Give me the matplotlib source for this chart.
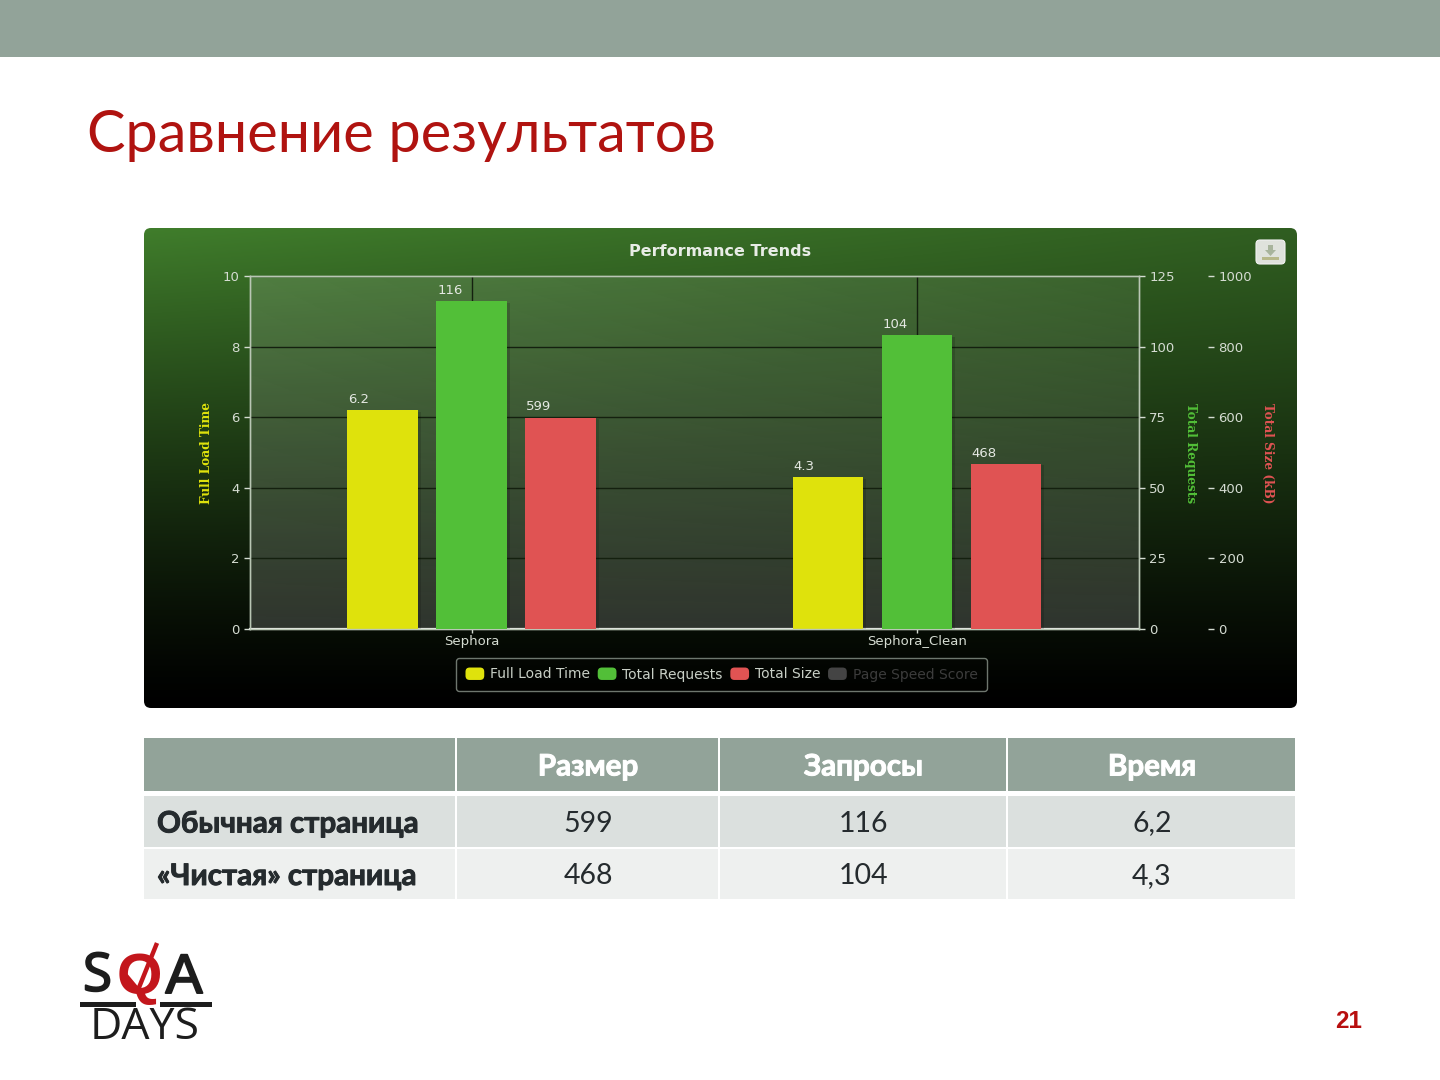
import numpy as np
import matplotlib
matplotlib.use('Agg')
import matplotlib.pyplot as plt
import matplotlib.patheffects as pe
from matplotlib.legend_handler import HandlerPatch
from matplotlib.patches import FancyBboxPatch, Rectangle, Patch, Polygon

W, H = 1440, 1080

# chart data
hosts = ['Sephora', 'Sephora_Clean']
load_time = [6.2, 4.3]
requests = [116, 104]
total_size = [599, 468]

load_ticks = [0, 2, 4, 6, 8, 10]
request_ticks = [0, 25, 50, 75, 100, 125]
size_ticks = [0, 200, 400, 600, 800, 1000]

legend_names = ['Full Load Time', 'Total Requests', 'Total Size', 'Page Speed Score']
legend_colors = ['#dfe20c', '#52bf38', '#e05353', '#444444']
legend_text = ['#c8cfc6', '#c8cfc6', '#c8cfc6', '#3c3c3c']

# table under the chart
table_head = ['', 'Размер', 'Запросы', 'Время']
table_rows = [['Обычная страница', '599', '116', '6,2'],
              ['«Чистая» страница', '468', '104', '4,3']]

SLIDE_FONT = ['Lato', 'Open Sans', 'DejaVu Sans']
TICK = '#d5dcd2'
DARK = '#1d1d1d'
RED = '#c3161c'


class RoundSwatch(HandlerPatch):
    # legend keys have rounded corners in the original
    def create_artists(self, legend, orig, xd, yd, width, height, fontsize, trans):
        p = FancyBboxPatch((-xd + 2, -yd + 2), width - 4, height - 4,
                           boxstyle='round,pad=2,rounding_size=3', fc=orig.get_facecolor(),
                           ec='none', transform=trans)
        return [p]


fig = plt.figure(figsize=(W / 100, H / 100), dpi=100, facecolor='white')

# whole slide in pixel coordinates
bg = fig.add_axes([0, 0, 1, 1], zorder=0)
bg.set_xlim(0, W)
bg.set_ylim(H, 0)
bg.axis('off')

bg.add_patch(Rectangle((0, 0), W, 57, color='#92a399', lw=0))
bg.text(87, 136, 'Сравнение результатов', color='#b01310', fontsize=41.5,
        family=SLIDE_FONT, va='center', ha='left')

# chart panel gradient
ny, nx = 240, 320
yy, xx = np.mgrid[0:1:ny * 1j, 0:1:nx * 1j]
top = np.array([0.25, 0.49, 0.17])
fade = np.clip(1 - yy, 0, 1) ** 1.25
side = 1 - 0.25 * xx * (1 - yy)
panel = top[None, None, :] * (fade * side)[:, :, None]
im = bg.imshow(panel, extent=(144, 1297, 708, 228), aspect='auto', zorder=1,
               interpolation='bilinear')
box = FancyBboxPatch((148, 232), 1145, 472, boxstyle='round,pad=4,rounding_size=7',
                     fc='none', ec='none', transform=bg.transData)
bg.add_patch(box)
im.set_clip_path(box)

# lighter plot area
light = np.ones((ny, nx, 4))
light[:, :, 3] = 0.13 - 0.06 * xx * (1 - yy) + 0.04 * yy
bg.imshow(light, extent=(250, 1139, 629, 276), aspect='auto', zorder=2)
bg.set_xlim(0, W)
bg.set_ylim(H, 0)

bg.text(720, 252, 'Performance Trends', color='#e8ece6', fontsize=11.5,
        fontweight='bold', ha='center', va='center', zorder=3)

# download button
bg.add_patch(FancyBboxPatch((1258, 242), 25, 20, boxstyle='round,pad=2,rounding_size=4',
                            fc='#dfe2dc', ec='#f2f2f2', lw=0.8, zorder=3))
bg.add_patch(Polygon([(1268, 245), (1273, 245), (1273, 250), (1276, 250), (1270.5, 256),
                      (1265, 250), (1268, 250)], color='#a8b49c', lw=0, zorder=4))
bg.add_patch(Rectangle((1262, 257), 17, 3, color='#b7b88a', lw=0, zorder=4))

# chart axes, three scales on one plot area
ax = fig.add_axes([250 / W, 1 - 629 / H, 889 / W, 353 / H], zorder=2)
ax.patch.set_visible(False)
ax2 = ax.twinx()
ax3 = ax.twinx()
ax2.patch.set_visible(False)
ax3.patch.set_visible(False)

x = np.arange(len(hosts))
bar_w = 0.159
step = 0.1998
shadow = [pe.SimplePatchShadow(offset=(2, -1), alpha=0.14, shadow_rgbFace='black'), pe.Normal()]

bars = ax.bar(x - step, load_time, bar_w, color=legend_colors[0], zorder=3)
bars2 = ax2.bar(x, requests, bar_w, color=legend_colors[1], zorder=3)
bars3 = ax3.bar(x + step, total_size, bar_w, color=legend_colors[2], zorder=3)

for a, bb, vals in [(ax, bars, load_time), (ax2, bars2, requests), (ax3, bars3, total_size)]:
    for b, v in zip(bb, vals):
        b.set_path_effects(shadow)
        a.annotate(str(v), (b.get_x(), v), xytext=(0.8, 3), textcoords='offset points',
                   color='#e4e8e2', fontsize=9.5, ha='left', va='bottom')

ax.set_xlim(-0.4972, 1.4983)
ax.set_ylim(0, 10)
ax2.set_ylim(0, 125)
ax3.set_ylim(0, 1000)
ax.set_xticks(x, hosts)
ax.set_yticks(load_ticks)
ax2.set_yticks(request_ticks)
ax3.set_yticks(size_ticks)

ax.grid(True, color='#14200f', lw=1.0, zorder=1)
ax.set_axisbelow(True)

ax.tick_params(axis='x', colors=TICK, length=3, width=1, labelsize=9.5, pad=1)
ax.tick_params(axis='y', colors=TICK, length=4.3, width=1, labelsize=9.5, pad=3)
ax2.tick_params(axis='y', colors=TICK, length=4.3, width=1, labelsize=9.5, pad=3)
ax3.tick_params(axis='y', colors=TICK, length=4.3, width=1, labelsize=9.5, pad=3)

for a in (ax, ax2):
    for s in a.spines.values():
        s.set_color('#b9c6b4')
        s.set_linewidth(1.0)
ax.spines['bottom'].set_color('#e6eae4')
ax.spines['bottom'].set_linewidth(1.6)
ax3.spines['right'].set_position(('outward', 50))
for s in ax3.spines.values():
    s.set_visible(False)

bg.text(207, 453, 'Full Load Time', color=legend_colors[0], fontsize=8.7, family='DejaVu Serif',
        fontweight='bold', rotation=90, ha='center', va='center', zorder=3)
bg.text(1190, 453, 'Total Requests', color=legend_colors[1], fontsize=8.7, family='DejaVu Serif',
        fontweight='bold', rotation=270, ha='center', va='center', zorder=3)
bg.text(1268, 453, 'Total Size (kB)', color=legend_colors[2], fontsize=8.7, family='DejaVu Serif',
        fontweight='bold', rotation=270, ha='center', va='center', zorder=3)

handles = [Patch(color=c, label=n) for c, n in zip(legend_colors, legend_names)]
leg = fig.legend(handles=handles, loc='center', bbox_to_anchor=(721.5 / W, 1 - 674.5 / H),
                 ncols=4, fontsize=10, handlelength=1.35, handleheight=1.0, handletextpad=0.42,
                 columnspacing=0.55, borderpad=0.65, borderaxespad=0,
                 facecolor='none', edgecolor='#8a948a', labelcolor=legend_text,
                 handler_map={Patch: RoundSwatch()})
leg.set_zorder(5)
leg.get_frame().set_linewidth(1)

# table
col_x = [144, 457, 720, 1008, 1297]
row_y = [(738, 791), (796, 847), (849, 899)]
row_col = ['#92a399', '#dbe0de', '#eef0ef']
for r, (y0, y1) in enumerate(row_y):
    for c in range(4):
        bg.add_patch(Rectangle((col_x[c], y0), col_x[c + 1] - col_x[c] - 2, y1 - y0,
                               color=row_col[r], lw=0))
        cx = (col_x[c] + col_x[c + 1]) / 2 - 0.5
        cy = (y0 + y1) / 2 + 2
        if r == 0:
            bg.text(cx, cy, table_head[c], color='white', fontsize=21.3, fontweight='bold',
                    family=SLIDE_FONT, ha='center', va='center',
                    path_effects=[pe.withStroke(linewidth=0.7, foreground='white')])
        elif c == 0:
            bg.text(157, cy, table_rows[r - 1][0], color='#252b2e', fontsize=21.3, fontweight='bold',
                    family=SLIDE_FONT, ha='left', va='center',
                    path_effects=[pe.withStroke(linewidth=0.7, foreground='#252b2e')])
        else:
            bg.text(cx, cy, table_rows[r - 1][c], color='#252b2e', fontsize=20.5,
                    family=SLIDE_FONT, ha='center', va='center')

# logo
heavy = [pe.withStroke(linewidth=1.4, foreground=DARK)]
bg.text(97.5, 977, 'S', color=DARK, fontsize=38, family='Open Sans', ha='center', va='center',
        path_effects=heavy)
bg.text(184, 979, 'A', color=DARK, fontsize=40, family='Liberation Sans', ha='center', va='center',
        path_effects=heavy)
bg.text(139.5, 979, 'Q', color=RED, fontsize=42, family='Liberation Sans', fontweight='bold',
        ha='center', va='center')
bg.plot([123, 138, 157], [972, 990, 943], color=RED, lw=3.2, solid_capstyle='butt')
bg.add_patch(Rectangle((80, 1002), 56, 5, color=DARK, lw=0))
bg.add_patch(Rectangle((160, 1002), 52, 5, color=DARK, lw=0))
bg.text(145, 1028, 'DAYS', color=DARK, fontsize=32, family='Open Sans', ha='center', va='center')

bg.text(1349, 1022, '21', color='#b80f0f', fontsize=17.5, fontweight='bold',
        family='Liberation Sans', ha='center', va='center')

fig.savefig('out.png', dpi=100)
